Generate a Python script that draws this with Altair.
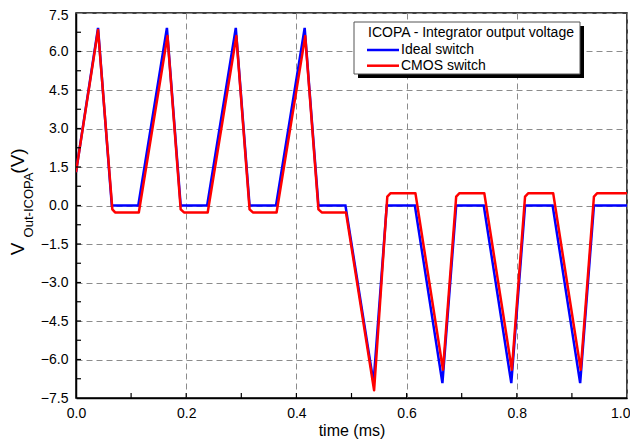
import altair as alt
import pandas as pd

# ---- data ----
t_ideal = [0.0, 0.040, 0.065, 0.113, 0.165, 0.190, 0.238, 0.290, 0.315, 0.363,
           0.415, 0.440, 0.489, 0.540, 0.564, 0.615, 0.665, 0.690, 0.740, 0.790,
           0.815, 0.865, 0.915, 0.940, 1.0]
v_ideal = [1.3, 6.92, 0.0, 0.0, 6.92, 0.0, 0.0, 6.92, 0.0, 0.0,
           6.92, 0.0, 0.0, -6.9, 0.0, 0.0, -6.92, 0.0, 0.0, -6.92,
           0.0, 0.0, -6.92, 0.0, 0.0]

t_cmos = [0.0, 0.040, 0.066, 0.071, 0.114, 0.166, 0.190, 0.196, 0.239, 0.291,
          0.315, 0.321, 0.364, 0.416, 0.440, 0.446, 0.490, 0.541, 0.565, 0.571,
          0.616, 0.666, 0.690, 0.696, 0.741, 0.791, 0.815, 0.821, 0.866, 0.916,
          0.940, 0.946, 1.0]
v_cmos = [1.3, 6.84, -0.15, -0.27, -0.27, 6.6, -0.15, -0.27, -0.27, 6.6,
          -0.15, -0.27, -0.27, 6.6, -0.15, -0.27, -0.27, -7.2, 0.35, 0.48,
          0.48, -6.4, 0.35, 0.48, 0.48, -6.4, 0.35, 0.48, 0.48, -6.4,
          0.35, 0.48, 0.48]

series_names = ["Ideal switch", "CMOS switch"]
series_colors = ["#0000FF", "#FF0000"]
legend_title = "ICOPA - Integrator output voltage"

x_ticks = [0.0, 0.2, 0.4, 0.6, 0.8, 1.0]
x_minor = [0.1, 0.2, 0.3, 0.4, 0.5, 0.6, 0.7, 0.8, 0.9]
y_ticks = [-7.5, -6.0, -4.5, -3.0, -1.5, 0.0, 1.5, 3.0, 4.5, 6.0, 7.5]
y_minor = [-6.75, -6.0, -5.25, -4.5, -3.75, -3.0, -2.25, -1.5, -0.75, 0.0,
           0.75, 1.5, 2.25, 3.0, 3.75, 4.5, 5.25, 6.0, 6.75]

W, H = 551, 385
FONT = "Liberation Sans"

df_ideal = pd.DataFrame({"t": t_ideal, "v": v_ideal, "s": series_names[0]})
df_cmos = pd.DataFrame({"t": t_cmos, "v": v_cmos, "s": series_names[1]})

xscale = alt.Scale(domain=[0, 1], nice=False, zero=False)
yscale = alt.Scale(domain=[-7.5, 7.5], nice=False, zero=False)
cscale = alt.Scale(domain=series_names, range=series_colors)

xaxis = alt.Axis(values=x_ticks, format=".1f", title="time (ms)", grid=True,
                 gridDash=[6, 4], gridColor="#8c8c8c", gridWidth=1, tickCount=20,
                 ticks=False, labelPadding=8, labelFontSize=14, titleFontSize=16,
                 titleFontWeight="normal", titlePadding=2, domainColor="black",
                 domainWidth=1.5, labelColor="black", titleColor="black",
                 labelFont=FONT, titleFont=FONT, labelOverlap=False, labelFlush=False,
                 labelAlign={"expr": "datum.value >= 0.99 ? 'right' : 'center'"},
                 labelOffset={"expr": "datum.value >= 0.99 ? 3 : 0"})
yaxis = alt.Axis(values=y_ticks, format=".1f", title=None, grid=True,
                 gridDash=[6, 4], gridColor="#8c8c8c", gridWidth=1,
                 ticks=False, labelPadding=8, labelFontSize=14, tickCount=20,
                 domainColor="black", domainWidth=1.5, labelColor="black",
                 labelFont=FONT, labelOverlap=False, labelFlush=False,
                 labelOffset={"expr": "datum.value >= 7.4 ? 2 : 0"})

ideal = alt.Chart(df_ideal).mark_line(strokeWidth=2.5, strokeJoin="miter", clip=True).encode(
    x=alt.X("t:Q", scale=xscale, axis=xaxis),
    y=alt.Y("v:Q", scale=yscale, axis=yaxis),
    color=alt.Color("s:N", scale=cscale, legend=None),
)
cmos = alt.Chart(df_cmos).mark_line(strokeWidth=2.5, strokeJoin="round", clip=True).encode(
    x=alt.X("t:Q", scale=xscale, axis=xaxis),
    y=alt.Y("v:Q", scale=yscale, axis=yaxis),
    color=alt.Color("s:N", scale=cscale, legend=None),
)

# inside ticks
xt = alt.Chart(pd.DataFrame({"t": x_minor})).mark_rule(color="black", strokeWidth=1.2).encode(
    x=alt.X("t:Q", scale=xscale, axis=xaxis), y=alt.value(H), y2=alt.value(H - 5))
yt = alt.Chart(pd.DataFrame({"v": y_minor})).mark_rule(color="black", strokeWidth=1.2).encode(
    y=alt.Y("v:Q", scale=yscale, axis=yaxis), x=alt.value(0), x2=alt.value(5))

one = pd.DataFrame({"a": [0]})

# y axis title with subscript
ytitle = [
    alt.Chart(one).mark_text(text="V", angle=270, fontSize=19, font=FONT, color="black",
                             align="center", baseline="middle").encode(x=alt.value(-58), y=alt.value(236)),
    alt.Chart(one).mark_text(text="Out-ICOPA", angle=270, fontSize=13, font=FONT, color="black",
                             align="center", baseline="middle").encode(x=alt.value(-47), y=alt.value(192)),
    alt.Chart(one).mark_text(text="(V)", angle=270, fontSize=19, font=FONT, color="black",
                             align="center", baseline="middle").encode(x=alt.value(-58), y=alt.value(148)),
]

# legend box with shadow
lx0, ly0, lx1, ly1 = 278, 9, 504, 61
shadow = alt.Chart(one).mark_rect(color="black").encode(
    x=alt.value(lx0 + 4), x2=alt.value(lx1 + 4), y=alt.value(ly0 + 4), y2=alt.value(ly1 + 4))
box = alt.Chart(one).mark_rect(fill="white", stroke="#555", strokeWidth=1).encode(
    x=alt.value(lx0), x2=alt.value(lx1), y=alt.value(ly0), y2=alt.value(ly1))
ltitle = alt.Chart(one).mark_text(text=legend_title, fontSize=14, font=FONT, color="black",
                                  align="left", baseline="middle").encode(
    x=alt.value(lx0 + 14), y=alt.value(ly0 + 11))
lsyms = []
for i, (name, col) in enumerate(zip(series_names, series_colors)):
    yy = ly0 + 28 + i * 15.7
    lsyms.append(alt.Chart(one).mark_rule(color=col, strokeWidth=2.5).encode(
        x=alt.value(lx0 + 13), x2=alt.value(lx0 + 45), y=alt.value(yy)))
    lsyms.append(alt.Chart(one).mark_text(text=name, fontSize=14, font=FONT, color="black",
                                          align="left", baseline="middle").encode(
        x=alt.value(lx0 + 47), y=alt.value(yy)))

chart = alt.layer(ideal, cmos, xt, yt, *ytitle, shadow, box, ltitle, *lsyms).properties(
    width=W, height=H,
    autosize=alt.AutoSizeParams(type="none"),
    padding={"left": 68, "top": 5, "right": 3, "bottom": 44},
    background="white",
).configure_view(stroke="black", strokeWidth=1.5)

chart.save("out.html", embed_options={"renderer": "svg", "actions": False})
